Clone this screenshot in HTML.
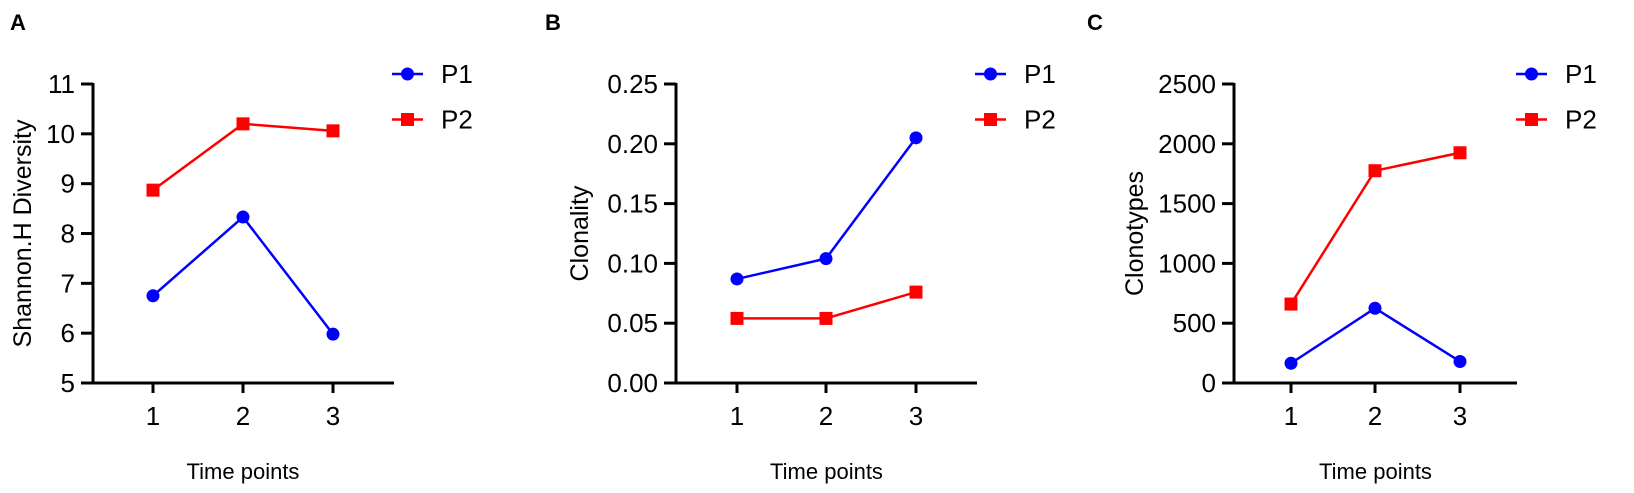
<!DOCTYPE html>
<html><head><meta charset="utf-8"><style>
html,body{margin:0;padding:0;background:#fff;}
svg{display:block;font-family:"Liberation Sans",Arial,sans-serif;}
</style></head><body>
<svg id="fig" width="1634" height="493" viewBox="0 0 1634 493"></svg>
<script>
const categories = [1, 2, 3];
const seriesNames = ["P1", "P2"];
const aP1 = [6.75, 8.33, 5.98];
const aP2 = [8.87, 10.2, 10.06];
const aTicks = ["5","6","7","8","9","10","11"];
const bP1 = [0.087, 0.104, 0.205];
const bP2 = [0.054, 0.054, 0.076];
const bTicks = ["0.00","0.05","0.10","0.15","0.20","0.25"];
const cP1 = [165, 625, 180];
const cP2 = [660, 1775, 1925];
const cTicks = ["0","500","1000","1500","2000","2500"];

const NS = "http://www.w3.org/2000/svg";
const svgRoot = document.getElementById('fig');
function mk(tag, attrs, parent) {
  const e = document.createElementNS(NS, tag);
  for (const k in attrs) e.setAttribute(k, attrs[k]);
  (parent || svgRoot).appendChild(e);
  return e;
}
const colors = ["#0000ff", "#ff0000"];
const panels = [
  {letter:"A", lx:10, ax:93, xe:394, xt:[153,243,333], title:"Shannon.H Diversity", tx:31, ticks:aTicks, min:5, max:11, series:[aP1,aP2], legX:392, name:"panel-a"},
  {letter:"B", lx:545, ax:676, xe:977, xt:[737,826,916], title:"Clonality", tx:588, ticks:bTicks, min:0, max:0.25, series:[bP1,bP2], legX:975, name:"panel-b"},
  {letter:"C", lx:1087, ax:1234, xe:1517, xt:[1291,1375,1460], title:"Clonotypes", tx:1143, ticks:cTicks, min:0, max:2500, series:[cP1,cP2], legX:1516, name:"panel-c"}
];
const yTop = 84, yBot = 383;
panels.forEach(p => {
  const g = mk('g', {});
  
  
  const y = v => yBot - (v - p.min) / (p.max - p.min) * (yBot - yTop);
  const x = i => p.xt[i];
  const L = mk('text', {x:p.lx, y:30, 'font-size':22, 'font-weight':'bold'}, g);
  L.textContent = p.letter;
  
  
  const yax = mk('line', {x1:p.ax, y1:yTop-1, x2:p.ax, y2:yBot+1.5, stroke:'#000','stroke-width':3}, g);
  
  
  const xax = mk('line', {x1:p.ax-1.5, y1:yBot, x2:p.xe, y2:yBot, stroke:'#000','stroke-width':3}, g);
  
  
  p.ticks.forEach((t, i) => {
    const v = p.min + i * (p.max - p.min) / (p.ticks.length - 1);
    const yy = y(v);
    mk('line', {x1:p.ax-12, y1:yy, x2:p.ax, y2:yy, stroke:'#000','stroke-width':3}, g);
    const tt = mk('text', {x:p.ax-18, y:yy+9, 'font-size':26, 'text-anchor':'end'}, g);
    tt.textContent = t;
    
    
  });
  categories.forEach((c, i) => {
    mk('line', {x1:x(i), y1:yBot, x2:x(i), y2:yBot+10, stroke:'#000','stroke-width':3}, g);
    const tt = mk('text', {x:x(i), y:425, 'font-size':26, 'text-anchor':'middle'}, g);
    tt.textContent = c;
    
    
  });
  const xt = mk('text', {x:(p.xt[0]+p.xt[2])/2, y:479, 'font-size':22, 'text-anchor':'middle'}, g);
  xt.textContent = "Time points";
  
  
  const yt = mk('text', {x:0, y:0, 'font-size':25, 'text-anchor':'middle', transform:`translate(${p.tx},${(yTop+yBot)/2}) rotate(-90)`}, g);
  yt.textContent = p.title;
  
  
  p.series.forEach((s, si) => {
    const pts = s.map((v, i) => x(i) + ',' + y(v)).join(' ');
    const pl = mk('polyline', {points:pts, fill:'none', stroke:colors[si], 'stroke-width':2.5}, g);
    
    
    s.forEach((v, i) => {
      let m;
      if (si === 0) m = mk('circle', {cx:x(i), cy:y(v), r:6.5, fill:colors[si]}, g);
      else m = mk('rect', {x:x(i)-6.5, y:y(v)-6.5, width:13, height:13, fill:colors[si]}, g);
      
      
    });
    const ly = 74 + si * 45.5;
    const lg = mk('g', {}, g);
    
    
    mk('line', {x1:p.legX, y1:ly, x2:p.legX+31, y2:ly, stroke:colors[si], 'stroke-width':2.5}, lg);
    const cx = p.legX + 15.5;
    if (si === 0) mk('circle', {cx:cx, cy:ly, r:6.5, fill:colors[si]}, lg);
    else mk('rect', {x:cx-6.5, y:ly-6.5, width:13, height:13, fill:colors[si]}, lg);
    const lt = mk('text', {x:p.legX+49, y:ly+9, 'font-size':26}, lg);
    lt.textContent = seriesNames[si];
  });
});
</script>
</body></html>
